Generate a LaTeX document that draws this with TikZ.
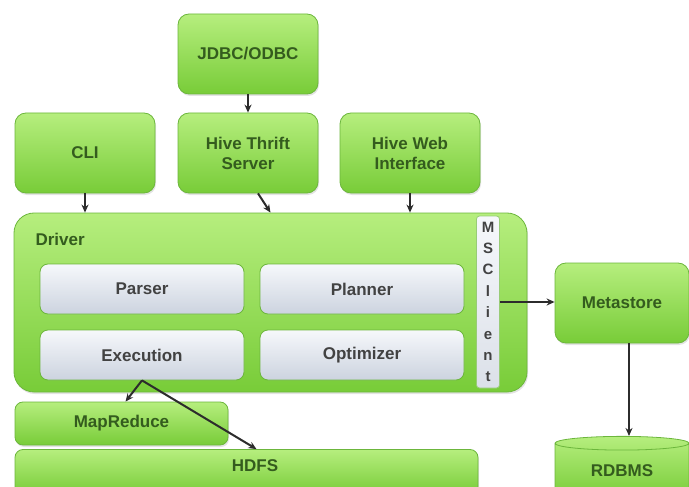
\documentclass[tikz,border=0pt]{standalone}
\usepackage{fontspec}
\setmainfont{Liberation Sans}
\usetikzlibrary{arrows.meta,shapes.geometric,shadows}

\definecolor{gtop}{RGB}{182,238,126}
\definecolor{gbot}{RGB}{120,204,56}
\definecolor{gline}{RGB}{108,182,60}
\definecolor{gtext}{RGB}{52,92,30}
\definecolor{ptop}{RGB}{246,248,251}
\definecolor{pbot}{RGB}{204,211,223}
\definecolor{ptext}{RGB}{66,66,66}
\definecolor{arr}{RGB}{44,44,44}

\newcommand{\labelfont}{\bfseries\fontsize{17}{20}\selectfont}

\begin{document}
\begin{tikzpicture}[x=1pt,y=-1pt,
  base/.style={rectangle, rounded corners=11pt, draw=gline, line width=0.8pt,
    inner sep=0pt, align=center, font=\labelfont},
  greenbox/.style={base, top color=gtop, bottom color=gbot, text=gtext,
    drop shadow={shadow xshift=1pt, shadow yshift=-2pt, opacity=0.22}},
  panelbox/.style={base, rounded corners=8pt, top color=ptop, bottom color=pbot,
    text=ptext, minimum width=204pt, minimum height=50pt},
  toolbox/.style={greenbox, minimum width=140pt, minimum height=80pt},
  link/.style={draw=arr, line width=2pt, -{Stealth[length=8pt,width=7pt]}}
]
\useasboundingbox (0,0) rectangle (689,487);
\clip (0,0) rectangle (689,487);

% client layer
\node[toolbox] (jdbc)   at (248,54)  {JDBC/ODBC};
\node[toolbox] (cli)    at (85,153)  {CLI};
\node[toolbox] (thrift) at (248,153) {Hive Thrift\\Server};
\node[toolbox] (web)    at (410,153) {Hive Web\\Interface};

% driver with its components
\node[greenbox, rounded corners=20pt, minimum width=513pt, minimum height=179pt] (driver) at (270.5,302.5) {};
\node[anchor=west, font=\labelfont, text=gtext] (drvlabel) at (32,239) {Driver};
\node[panelbox] (parser)  at (142,289) {Parser};
\node[panelbox] (planner) at (362,289) {Planner};
\node[panelbox] (exec)    at (142,355) {Execution};
\node[panelbox] (optim)   at (362,355) {Optimizer};
\node[base, rounded corners=3pt, draw=gline!70, top color=ptop, bottom color=pbot!70,
  text=ptext, minimum width=23pt, minimum height=172pt,
  font=\bfseries\fontsize{15}{21.4}\selectfont] (msc) at (488,302) {M\\S\\C\\l\\i\\e\\n\\t};

% metastore and its database
\node[greenbox, minimum width=134pt, minimum height=80pt] (meta) at (622,303) {Metastore};
\node[cylinder, shape border rotate=90, aspect=0.22, draw=gline, line width=0.8pt,
  top color=gtop, bottom color=gbot, text=gtext, minimum width=134pt, minimum height=62pt,
  inner sep=0pt, font=\labelfont] (rdbms) at (622,471) {RDBMS};

% execution back ends
\node[greenbox, rounded corners=8pt, minimum width=213pt, minimum height=43pt] (mapr) at (121.5,423.5) {MapReduce};
\node[greenbox, rounded corners=8pt, minimum width=463pt, minimum height=45pt] (hdfs) at (246.5,472) {};
\node[font=\labelfont, text=gtext] (hdfslabel) at (255,466) {HDFS};

% connectors
\draw[link] (jdbc.south) -- (thrift.north);
\draw[link] (cli.south) -- (cli.south |- driver.north);
\draw[link] ([xshift=10pt]thrift.south) -- (driver.north);
\draw[link] (web.south) -- (web.south |- driver.north);
\draw[link] (msc.east) -- (msc.east -| meta.west);
\draw[link] ([xshift=7pt]meta.south) -- ([xshift=7pt]rdbms.top);
\draw[link] (exec.south) -- ([xshift=4pt]mapr.north);
\draw[link] (exec.south) -- ([xshift=10pt]hdfs.north);
\end{tikzpicture}
\end{document}
